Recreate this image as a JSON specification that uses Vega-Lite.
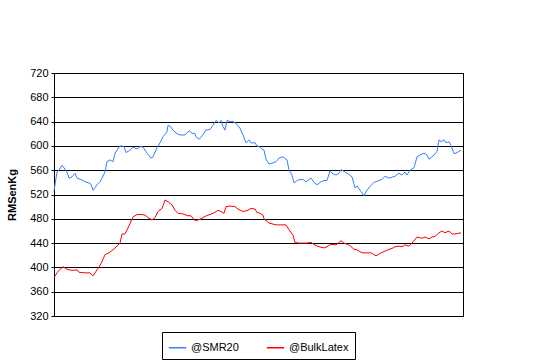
{
  "$schema": "https://vega.github.io/schema/vega-lite/v6.json",
  "width": 409,
  "height": 243,
  "autosize": {"type": "none"},
  "padding": {"left": 54, "top": 73, "right": 92, "bottom": 44},
  "background": "white",
  "config": {
    "view": {"stroke": "black", "strokeWidth": 1},
    "font": "Liberation Sans",
    "axis": {"labelFont": "Liberation Sans", "titleFont": "Liberation Sans"}
  },
  "data": {"values": [
    {"t":0,"s":"@SMR20","v":526},{"t":3,"s":"@SMR20","v":557},{"t":5,"s":"@SMR20","v":560},{"t":8,"s":"@SMR20","v":568},{"t":10,"s":"@SMR20","v":564},{"t":13,"s":"@SMR20","v":557},{"t":15,"s":"@SMR20","v":547},{"t":18,"s":"@SMR20","v":549},{"t":21,"s":"@SMR20","v":555},{"t":23,"s":"@SMR20","v":547},{"t":28,"s":"@SMR20","v":544},{"t":31,"s":"@SMR20","v":541},{"t":35,"s":"@SMR20","v":539},{"t":37,"s":"@SMR20","v":537},{"t":39,"s":"@SMR20","v":527},{"t":43,"s":"@SMR20","v":536},{"t":46,"s":"@SMR20","v":541},{"t":48,"s":"@SMR20","v":547},{"t":51,"s":"@SMR20","v":557},{"t":53,"s":"@SMR20","v":574},{"t":56,"s":"@SMR20","v":577},{"t":59,"s":"@SMR20","v":574},{"t":61,"s":"@SMR20","v":588},{"t":65,"s":"@SMR20","v":598},{"t":67,"s":"@SMR20","v":600},{"t":70,"s":"@SMR20","v":599},{"t":72,"s":"@SMR20","v":589},{"t":76,"s":"@SMR20","v":593},{"t":79,"s":"@SMR20","v":598},{"t":83,"s":"@SMR20","v":595},{"t":86,"s":"@SMR20","v":599},{"t":89,"s":"@SMR20","v":598},{"t":93,"s":"@SMR20","v":588},{"t":97,"s":"@SMR20","v":580},{"t":99,"s":"@SMR20","v":582},{"t":103,"s":"@SMR20","v":597},{"t":106,"s":"@SMR20","v":605},{"t":109,"s":"@SMR20","v":615},{"t":113,"s":"@SMR20","v":623},{"t":114,"s":"@SMR20","v":634},{"t":117,"s":"@SMR20","v":631},{"t":119,"s":"@SMR20","v":626},{"t":123,"s":"@SMR20","v":620},{"t":126,"s":"@SMR20","v":618},{"t":131,"s":"@SMR20","v":618},{"t":135,"s":"@SMR20","v":625},{"t":138,"s":"@SMR20","v":621},{"t":141,"s":"@SMR20","v":620},{"t":142,"s":"@SMR20","v":615},{"t":145,"s":"@SMR20","v":611},{"t":147,"s":"@SMR20","v":614},{"t":152,"s":"@SMR20","v":626},{"t":156,"s":"@SMR20","v":627},{"t":159,"s":"@SMR20","v":634},{"t":162,"s":"@SMR20","v":642},{"t":165,"s":"@SMR20","v":638},{"t":167,"s":"@SMR20","v":642},{"t":169,"s":"@SMR20","v":632},{"t":171,"s":"@SMR20","v":626},{"t":173,"s":"@SMR20","v":642},{"t":176,"s":"@SMR20","v":640},{"t":179,"s":"@SMR20","v":640},{"t":182,"s":"@SMR20","v":637},{"t":186,"s":"@SMR20","v":629},{"t":189,"s":"@SMR20","v":618},{"t":192,"s":"@SMR20","v":605},{"t":195,"s":"@SMR20","v":610},{"t":197,"s":"@SMR20","v":605},{"t":201,"s":"@SMR20","v":605},{"t":203,"s":"@SMR20","v":600},{"t":205,"s":"@SMR20","v":599},{"t":208,"s":"@SMR20","v":595},{"t":210,"s":"@SMR20","v":593},{"t":212,"s":"@SMR20","v":578},{"t":215,"s":"@SMR20","v":570},{"t":219,"s":"@SMR20","v":572},{"t":222,"s":"@SMR20","v":574},{"t":225,"s":"@SMR20","v":580},{"t":229,"s":"@SMR20","v":582},{"t":233,"s":"@SMR20","v":577},{"t":235,"s":"@SMR20","v":560},{"t":238,"s":"@SMR20","v":552},{"t":240,"s":"@SMR20","v":539},{"t":244,"s":"@SMR20","v":544},{"t":249,"s":"@SMR20","v":545},{"t":252,"s":"@SMR20","v":541},{"t":257,"s":"@SMR20","v":547},{"t":260,"s":"@SMR20","v":540},{"t":263,"s":"@SMR20","v":536},{"t":267,"s":"@SMR20","v":541},{"t":270,"s":"@SMR20","v":543},{"t":273,"s":"@SMR20","v":543},{"t":276,"s":"@SMR20","v":559},{"t":278,"s":"@SMR20","v":555},{"t":282,"s":"@SMR20","v":552},{"t":285,"s":"@SMR20","v":555},{"t":287,"s":"@SMR20","v":561},{"t":291,"s":"@SMR20","v":557},{"t":295,"s":"@SMR20","v":553},{"t":298,"s":"@SMR20","v":549},{"t":301,"s":"@SMR20","v":531},{"t":303,"s":"@SMR20","v":534},{"t":307,"s":"@SMR20","v":525},{"t":310,"s":"@SMR20","v":518},{"t":313,"s":"@SMR20","v":527},{"t":317,"s":"@SMR20","v":535},{"t":320,"s":"@SMR20","v":540},{"t":325,"s":"@SMR20","v":543},{"t":328,"s":"@SMR20","v":545},{"t":331,"s":"@SMR20","v":550},{"t":335,"s":"@SMR20","v":547},{"t":339,"s":"@SMR20","v":549},{"t":341,"s":"@SMR20","v":550},{"t":345,"s":"@SMR20","v":555},{"t":348,"s":"@SMR20","v":552},{"t":351,"s":"@SMR20","v":557},{"t":353,"s":"@SMR20","v":552},{"t":356,"s":"@SMR20","v":560},{"t":360,"s":"@SMR20","v":564},{"t":363,"s":"@SMR20","v":582},{"t":366,"s":"@SMR20","v":585},{"t":370,"s":"@SMR20","v":588},{"t":373,"s":"@SMR20","v":585},{"t":375,"s":"@SMR20","v":578},{"t":380,"s":"@SMR20","v":585},{"t":383,"s":"@SMR20","v":591},{"t":385,"s":"@SMR20","v":610},{"t":387,"s":"@SMR20","v":607},{"t":390,"s":"@SMR20","v":610},{"t":392,"s":"@SMR20","v":605},{"t":395,"s":"@SMR20","v":607},{"t":397,"s":"@SMR20","v":601},{"t":400,"s":"@SMR20","v":587},{"t":403,"s":"@SMR20","v":589},{"t":407,"s":"@SMR20","v":593},
    {"t":0,"s":"@BulkLatex","v":383},{"t":3,"s":"@BulkLatex","v":391},{"t":6,"s":"@BulkLatex","v":397},{"t":9,"s":"@BulkLatex","v":401},{"t":13,"s":"@BulkLatex","v":397},{"t":18,"s":"@BulkLatex","v":395},{"t":23,"s":"@BulkLatex","v":396},{"t":25,"s":"@BulkLatex","v":392},{"t":31,"s":"@BulkLatex","v":391},{"t":36,"s":"@BulkLatex","v":391},{"t":39,"s":"@BulkLatex","v":386},{"t":43,"s":"@BulkLatex","v":396},{"t":47,"s":"@BulkLatex","v":406},{"t":51,"s":"@BulkLatex","v":421},{"t":55,"s":"@BulkLatex","v":424},{"t":59,"s":"@BulkLatex","v":429},{"t":63,"s":"@BulkLatex","v":435},{"t":66,"s":"@BulkLatex","v":440},{"t":68,"s":"@BulkLatex","v":455},{"t":71,"s":"@BulkLatex","v":455},{"t":74,"s":"@BulkLatex","v":465},{"t":79,"s":"@BulkLatex","v":483},{"t":83,"s":"@BulkLatex","v":487},{"t":88,"s":"@BulkLatex","v":487},{"t":91,"s":"@BulkLatex","v":486},{"t":94,"s":"@BulkLatex","v":482},{"t":98,"s":"@BulkLatex","v":478},{"t":101,"s":"@BulkLatex","v":482},{"t":104,"s":"@BulkLatex","v":492},{"t":108,"s":"@BulkLatex","v":497},{"t":111,"s":"@BulkLatex","v":511},{"t":114,"s":"@BulkLatex","v":508},{"t":118,"s":"@BulkLatex","v":503},{"t":121,"s":"@BulkLatex","v":494},{"t":124,"s":"@BulkLatex","v":489},{"t":129,"s":"@BulkLatex","v":488},{"t":134,"s":"@BulkLatex","v":485},{"t":137,"s":"@BulkLatex","v":485},{"t":141,"s":"@BulkLatex","v":477},{"t":146,"s":"@BulkLatex","v":479},{"t":151,"s":"@BulkLatex","v":484},{"t":154,"s":"@BulkLatex","v":486},{"t":159,"s":"@BulkLatex","v":489},{"t":164,"s":"@BulkLatex","v":494},{"t":167,"s":"@BulkLatex","v":492},{"t":170,"s":"@BulkLatex","v":489},{"t":172,"s":"@BulkLatex","v":500},{"t":176,"s":"@BulkLatex","v":501},{"t":181,"s":"@BulkLatex","v":500},{"t":184,"s":"@BulkLatex","v":496},{"t":189,"s":"@BulkLatex","v":492},{"t":194,"s":"@BulkLatex","v":494},{"t":197,"s":"@BulkLatex","v":497},{"t":201,"s":"@BulkLatex","v":496},{"t":203,"s":"@BulkLatex","v":490},{"t":205,"s":"@BulkLatex","v":490},{"t":209,"s":"@BulkLatex","v":486},{"t":210,"s":"@BulkLatex","v":480},{"t":215,"s":"@BulkLatex","v":473},{"t":222,"s":"@BulkLatex","v":470},{"t":227,"s":"@BulkLatex","v":470},{"t":232,"s":"@BulkLatex","v":470},{"t":235,"s":"@BulkLatex","v":462},{"t":239,"s":"@BulkLatex","v":453},{"t":241,"s":"@BulkLatex","v":441},{"t":245,"s":"@BulkLatex","v":440},{"t":252,"s":"@BulkLatex","v":440},{"t":257,"s":"@BulkLatex","v":441},{"t":261,"s":"@BulkLatex","v":437},{"t":265,"s":"@BulkLatex","v":434},{"t":270,"s":"@BulkLatex","v":432},{"t":273,"s":"@BulkLatex","v":434},{"t":277,"s":"@BulkLatex","v":438},{"t":282,"s":"@BulkLatex","v":437},{"t":287,"s":"@BulkLatex","v":444},{"t":290,"s":"@BulkLatex","v":440},{"t":295,"s":"@BulkLatex","v":437},{"t":300,"s":"@BulkLatex","v":430},{"t":303,"s":"@BulkLatex","v":429},{"t":308,"s":"@BulkLatex","v":424},{"t":313,"s":"@BulkLatex","v":424},{"t":317,"s":"@BulkLatex","v":424},{"t":322,"s":"@BulkLatex","v":419},{"t":327,"s":"@BulkLatex","v":424},{"t":330,"s":"@BulkLatex","v":426},{"t":334,"s":"@BulkLatex","v":429},{"t":339,"s":"@BulkLatex","v":432},{"t":341,"s":"@BulkLatex","v":434},{"t":345,"s":"@BulkLatex","v":435},{"t":348,"s":"@BulkLatex","v":434},{"t":351,"s":"@BulkLatex","v":437},{"t":355,"s":"@BulkLatex","v":435},{"t":358,"s":"@BulkLatex","v":440},{"t":363,"s":"@BulkLatex","v":450},{"t":368,"s":"@BulkLatex","v":448},{"t":371,"s":"@BulkLatex","v":450},{"t":375,"s":"@BulkLatex","v":447},{"t":378,"s":"@BulkLatex","v":450},{"t":381,"s":"@BulkLatex","v":451},{"t":385,"s":"@BulkLatex","v":457},{"t":388,"s":"@BulkLatex","v":460},{"t":391,"s":"@BulkLatex","v":457},{"t":395,"s":"@BulkLatex","v":460},{"t":398,"s":"@BulkLatex","v":455},{"t":401,"s":"@BulkLatex","v":455},{"t":407,"s":"@BulkLatex","v":457}
  ]},
  "mark": {"type": "line", "strokeWidth": 1, "interpolate": "linear"},
  "encoding": {
    "x": {"field": "t", "type": "quantitative", "scale": {"domain": [0, 409], "nice": false, "zero": false}, "axis": null},
    "y": {"field": "v", "type": "quantitative",
      "scale": {"domain": [320, 720], "nice": false, "zero": false},
      "axis": {"title": "RMSenKg", "titleFontSize": 11, "titleFontWeight": "bold", "titleColor": "black", "titlePadding": 12,
        "values": [320, 360, 400, 440, 480, 520, 560, 600, 640, 680, 720],
        "labelFontSize": 11, "labelColor": "black", "labelPadding": 3,
        "ticks": true, "tickSize": 3, "tickColor": "black",
        "domain": true, "domainColor": "black",
        "grid": true, "gridColor": "black", "gridOpacity": 1, "gridWidth": 1}},
    "color": {"field": "s", "type": "nominal",
      "scale": {"domain": ["@SMR20", "@BulkLatex"], "range": ["#3380FF", "#FF0000"]},
      "legend": {"title": null, "orient": "none", "legendX": 108, "legendY": 259, "direction": "horizontal",
        "symbolType": "stroke", "symbolSize": 300, "symbolStrokeWidth": 1.5,
        "labelFontSize": 11, "labelColor": "black", "columnPadding": 24,
        "strokeColor": "black", "padding": 6, "fillColor": "white"}}
  }
}
